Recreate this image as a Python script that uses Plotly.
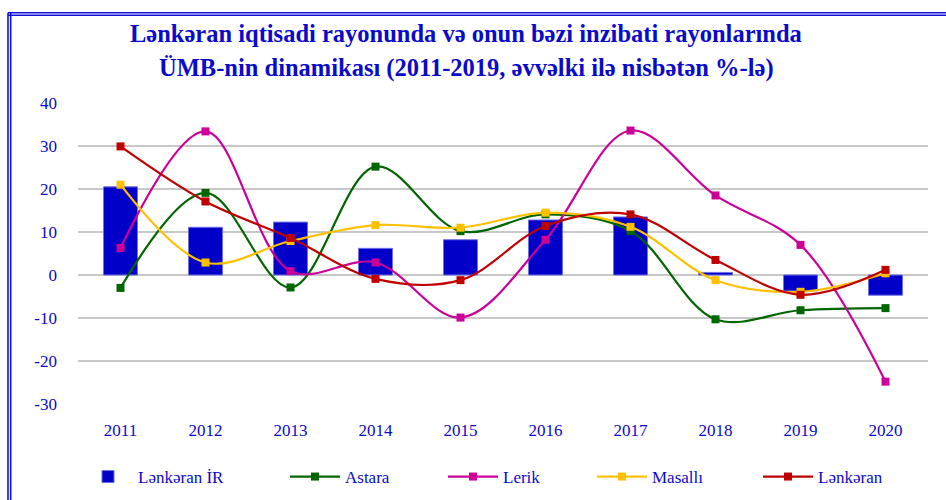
import plotly.graph_objects as go

years = ["2011", "2012", "2013", "2014", "2015", "2016", "2017", "2018", "2019", "2020"]
lenkeran_ir = [20.5, 11.1, 12.3, 6.2, 8.2, 12.8, 13.5, 0.6, -3.7, -4.7]
astara = [-3.0, 19.1, -2.9, 25.2, 10.2, 14.1, 10.2, -10.3, -8.2, -7.7]
lerik = [6.3, 33.4, 0.9, 2.9, -9.9, 8.2, 33.6, 18.5, 7.0, -24.8]
masalli = [21.0, 2.9, 7.9, 11.6, 11.0, 14.5, 11.2, -1.2, -3.9, 0.4]
lenkeran = [29.9, 17.1, 8.6, -0.9, -1.2, 11.4, 14.1, 3.5, -4.6, 1.2]
y_ticks = [40, 30, 20, 10, 0, -10, -20, -30]
y_tick_labels = ["40", "30", "20", "10", "0", "-10", "-20", "-30"]
title_lines = ["Lənkəran iqtisadi rayonunda və onun bəzi inzibati rayonlarında",
               "ÜMB-nin dinamikası (2011-2019, əvvəlki ilə nisbətən %-lə)"]

TXT = "#0A0ACC"
FONT = "Liberation Serif"

W, H = 946, 500
L, R, T, B = 78, 18, 103, 96
pw, ph = W - L - R, H - T - B

# legend text start positions (px) for each entry
legend_text_x = [137, 344, 502, 651, 817]
LEG_OFFSET = 59

fig = go.Figure()
fig.add_trace(go.Bar(
    x=years, y=lenkeran_ir, name="Lənkəran İR",
    marker=dict(color="#0000C8", line=dict(color="#6F6FE8", width=1)),
    width=0.4, legend="legend",
))
series = [("Astara", astara, "#006600"), ("Lerik", lerik, "#CC0099"),
          ("Masallı", masalli, "#FFC000"), ("Lənkəran", lenkeran, "#C00000")]
for i, (name, vals, col) in enumerate(series):
    fig.add_trace(go.Scatter(
        x=years, y=vals, name=name, mode="lines+markers",
        line=dict(color=col, width=2.2, shape="spline", smoothing=1.0),
        marker=dict(symbol="square", size=8, color=col),
        legend="legend%d" % (i + 2),
    ))

def px_x(p):
    return (p - L) / pw

def px_y(p):
    return (H - B - p) / ph

shapes = []
for yy in (12.7, 15.3):
    shapes.append(dict(type="line", xref="paper", yref="paper",
                       x0=px_x(8), x1=px_x(960), y0=px_y(yy), y1=px_y(yy),
                       line=dict(color="#1010D8", width=1.6)))
for xx in (8.0, 10.7):
    shapes.append(dict(type="line", xref="paper", yref="paper",
                       x0=px_x(xx), x1=px_x(xx), y0=px_y(12.7), y1=px_y(510),
                       line=dict(color="#1010D8", width=1.6)))

annotations = []
for txt, yc in zip(title_lines, (33, 68)):
    annotations.append(dict(text="<b>" + txt + "</b>", xref="paper", yref="paper",
                            x=px_x(466), y=px_y(yc), xanchor="center", yanchor="middle",
                            showarrow=False, font=dict(family=FONT, size=24.5, color=TXT)))

legends = {}
for i, tx in enumerate(legend_text_x):
    key = "legend" if i == 0 else "legend%d" % (i + 1)
    legends[key] = dict(orientation="h", xref="container", yref="container",
                        x=(tx - LEG_OFFSET) / W, xanchor="left", y=1 - 477 / H, yanchor="middle",
                        font=dict(family=FONT, size=17, color=TXT),
                        itemwidth=50, bgcolor="rgba(0,0,0,0)")

fig.update_layout(
    width=W, height=H,
    margin=dict(l=L, r=R, t=T, b=B, autoexpand=False),
    paper_bgcolor="white", plot_bgcolor="white",
    font=dict(family=FONT, color=TXT, size=17),
    xaxis=dict(showgrid=False, showline=False, ticks="", automargin=False,
               range=[-0.5, 9.5],
               tickfont=dict(family=FONT, size=17, color=TXT), ticklabelstandoff=14),
    yaxis=dict(range=[-30, 40], tickvals=y_ticks, ticktext=y_tick_labels, automargin=False,
               showgrid=True, gridcolor="#C8C8C8",
               gridwidth=1.5, zeroline=False, showline=False, ticks="",
               tickfont=dict(family=FONT, size=17, color=TXT), ticklabelstandoff=20),
    showlegend=True,
    shapes=shapes,
    annotations=annotations,
    bargap=0.6,
    **legends,
)
fig.write_html("out.html", config={"displayModeBar": False},
               post_script="document.body.style.margin='0';")
